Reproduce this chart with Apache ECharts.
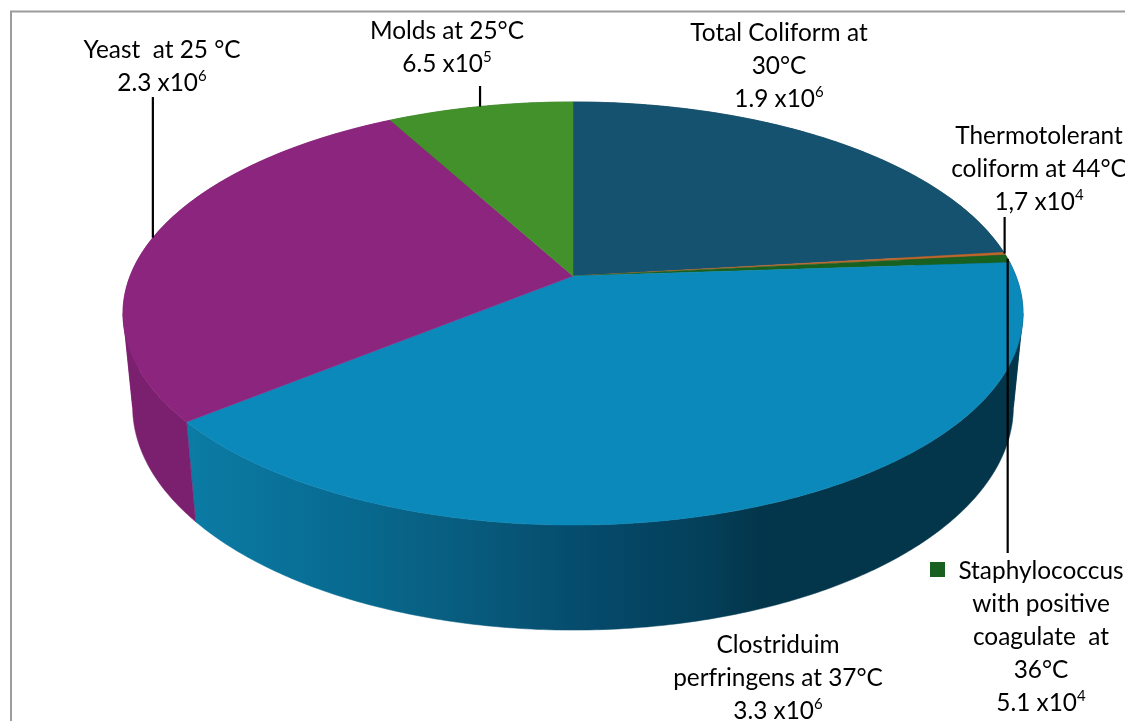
<!DOCTYPE html>
<html>
<head>
<meta charset="utf-8">
<style>html,body{margin:0;padding:0;background:#fff}#chart{width:1125px;height:721px}</style>
<script src="https://cdn.jsdelivr.net/npm/echarts@6/dist/echarts.min.js"></script>
</head>
<body>
<div id="chart"></div>
<script>
// Microbial counts per organism, clockwise from twelve o'clock
const organisms = [
  'Total Coliform at\n30°C',
  'Thermotolerant\ncoliform at 44°C',
  'Staphylococcus\nwith positive\ncoagulate  at\n36°C',
  'Clostriduim\nperfringens at 37°C',
  'Yeast  at 25 °C',
  'Molds at 25°C'
];
const counts = [1.9e6, 1.7e4, 5.1e4, 3.3e6, 2.3e6, 6.5e5];
const countMantissas = ['1.9', '1,7', '5.1', '3.3', '2.3', '6.5'];
const countExponents = ['6', '4', '4', '6', '6', '5'];

const topColors = ['#145270', '#c0652c', '#17601f', '#0b89bb', '#8b257e', '#43912a'];
const wallColors = ['#0f3f57', '#964e22', '#114a18', null, '#7b206e', '#347020'];
const blueWallStops = [
  [187, '#0b7ca5'], [350, '#086a90'], [450, '#085e80'],
  [600, '#05496a'], [700, '#04405a'], [760, '#03364b'], [1030, '#03364b']
];

// Label centres, and where each leader line stops above or below the pie
const labelCentres = [[779, 66], [1039, 169], [1041, 637], [778, 678], [162, 67], [447, 48]];
const leaderEnds = [null, 217, 553, null, 97, 86];

// Perspective projection of the pie disc
const apex = { x: 573, y: 276 };
const disc = { rx: 442.9, ry: 204.9, tilt: 0.1773 };
const wall = { vanishY: 4700, depth: 0.0207 };

const total = counts.reduce((a, b) => a + b, 0);
const sliceStarts = [];
counts.reduce((acc, c, i) => { sliceStarts[i] = acc; return acc + c / total * 2 * Math.PI; }, 0);
const sliceEnd = i => sliceStarts[i] + counts[i] / total * 2 * Math.PI;

function rim(theta) {
  const u = Math.sin(theta), v = Math.cos(theta), w = 1 + disc.tilt * v;
  return { x: apex.x + disc.rx * u / w, y: apex.y - disc.ry * v / w, w };
}
function rimLower(theta) {
  const p = rim(theta), t = wall.depth / p.w;
  return [p.x + (apex.x - p.x) * t, p.y + (wall.vanishY - p.y) * t];
}
function sampleBetween(a, b) {
  const n = Math.max(2, Math.ceil((b - a) * 90)), out = [];
  for (let k = 0; k <= n; k++) out.push(a + (b - a) * k / n);
  return out;
}
function sampleAngles(i) {
  return sampleBetween(sliceStarts[i], sliceEnd(i));
}
// The wall folds where the rim turns back on itself, so each ribbon is split there
const foldAngles = [Math.acos(-disc.tilt), 2 * Math.PI - Math.acos(-disc.tilt)];
function wallSections(i) {
  const cuts = [sliceStarts[i]];
  foldAngles.forEach(f => { if (f > sliceStarts[i] && f < sliceEnd(i)) cuts.push(f); });
  cuts.push(sliceEnd(i));
  return cuts.slice(1).map((b, k) => sampleBetween(cuts[k], b));
}
function wallFill(i) {
  if (wallColors[i]) return wallColors[i];
  const x0 = blueWallStops[0][0], x1 = blueWallStops[blueWallStops.length - 1][0];
  return new echarts.graphic.LinearGradient(x0, 0, x1, 0,
    blueWallStops.map(s => ({ offset: (s[0] - x0) / (x1 - x0), color: s[1] })), true);
}

const labelRich = {
  t: { fontFamily: 'Lato', fontSize: 24.4, lineHeight: 33, color: '#111' },
  s: { fontFamily: 'Lato', fontSize: 15, lineHeight: 33, verticalAlign: 'top', color: '#111', padding: [2, 0, 0, 0] }
};
function labelText(i) {
  const lines = organisms[i].split('\n').map(l => '{t|' + l + '}');
  lines.push('{t|' + countMantissas[i] + ' x10}{s|' + countExponents[i] + '}');
  return lines.join('\n');
}

const rows = counts.map((c, i) => [i, c]);
const chart = echarts.init(document.getElementById('chart'), null, { renderer: 'canvas' });

chart.setOption({
  animation: false,
  backgroundColor: '#ffffff',
  graphic: [{
    type: 'polyline', silent: true,
    shape: { points: [[11, 721], [11, 11.5], [1125, 11.5]] },
    style: { stroke: '#9c9c9c', lineWidth: 2, fill: null }
  }, {
    // legend key beside the Staphylococcus label
    type: 'rect', silent: true,
    shape: { x: 930, y: 562, width: 15, height: 15 },
    style: { fill: topColors[2] }
  }],
  series: [
    {
      // side wall of the disc
      type: 'custom', coordinateSystem: 'none', z: 1, data: rows,
      renderItem(params, api) {
        const i = api.value(0), fill = wallFill(i);
        return {
          type: 'group',
          children: wallSections(i).map(angles => ({
            type: 'polygon',
            shape: {
              points: angles.map(a => { const p = rim(a); return [p.x, p.y]; })
                .concat(angles.map(rimLower).reverse())
            },
            style: { fill, stroke: fill, lineWidth: 0.5 }
          }))
        };
      }
    },
    {
      // upper face of the disc
      type: 'custom', coordinateSystem: 'none', z: 2, data: rows,
      renderItem(params, api) {
        const i = api.value(0);
        const pts = [[apex.x, apex.y]].concat(sampleAngles(i).map(a => { const p = rim(a); return [p.x, p.y]; }));
        return { type: 'polygon', shape: { points: pts }, style: { fill: topColors[i], stroke: topColors[i], lineWidth: 0.5 } };
      }
    },
    {
      // leader lines and labels
      type: 'custom', coordinateSystem: 'none', z: 3, data: rows,
      renderItem(params, api) {
        const i = api.value(0), children = [];
        if (leaderEnds[i] !== null) {
          const m = rim((sliceStarts[i] + sliceEnd(i)) / 2);
          children.push({
            type: 'line',
            shape: { x1: m.x, y1: m.y, x2: m.x, y2: leaderEnds[i] },
            style: { stroke: '#000', lineWidth: 2.2 }
          });
        }
        children.push({
          type: 'text',
          style: {
            text: labelText(i), rich: labelRich,
            x: labelCentres[i][0], y: labelCentres[i][1],
            align: 'center', verticalAlign: 'middle'
          }
        });
        return { type: 'group', children };
      }
    }
  ]
});
</script>
</body>
</html>
